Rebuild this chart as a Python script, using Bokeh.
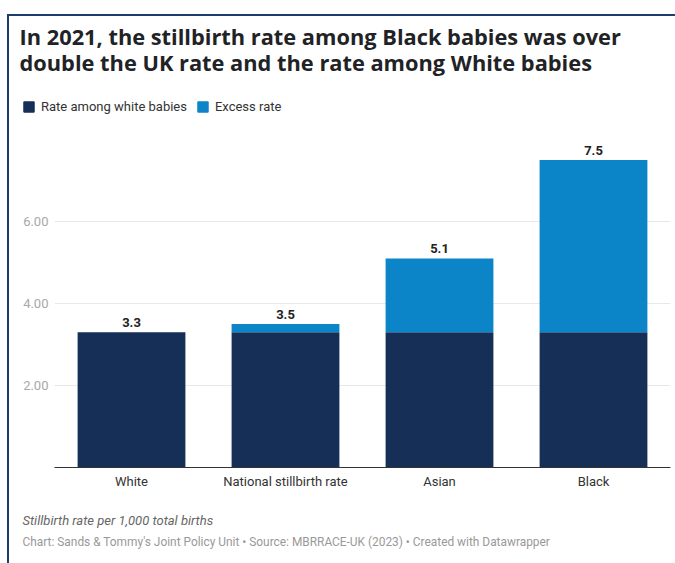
from bokeh.plotting import figure
from bokeh.layouts import column
from bokeh.models import (FactorRange, Range1d, FixedTicker, NumeralTickFormatter,
                          Label, Legend, LegendItem, ColumnDataSource)
from bokeh.core.properties import value
from bokeh.embed import file_html
from bokeh.resources import INLINE

# ---- data ----
categories = ["White", "National stillbirth rate", "Asian", "Black"]
white_rate = [3.3, 3.3, 3.3, 3.3]
excess_rate = [0.0, 0.2, 1.8, 4.2]
totals = [3.3, 3.5, 5.1, 7.5]
total_labels = ["3.3", "3.5", "5.1", "7.5"]
y_ticks = [2, 4, 6]
series_names = ["Rate among white babies", "Excess rate"]

title_lines = ["In 2021, the stillbirth rate among Black babies was over",
               "double the UK rate and the rate among White babies"]
note_text = "Stillbirth rate per 1,000 total births"
source_text = "Chart: Sands & Tommy's Joint Policy Unit \u2022 Source: MBRRACE-UK (2023) \u2022 Created with Datawrapper"

NAVY = "#152f57"
BLUE = "#0b85c7"
BORDER = "#1d3d6c"

# page geometry (pixels)
OX, OY = 9, 16                 # canvas origin inside the bordered box
W = 675 - OX
HEAD_B, MAIN_B = 120, 500      # header bottom / main chart bottom (page y)
FRAME_L, FRAME_R, FRAME_T, FRAME_B = 54, 670, 125, 467
PX_PER_UNIT = 41.0
y_end = (FRAME_B - FRAME_T) / PX_PER_UNIT


def no_align(f):
    if "frame_align" in f.properties():
        f.frame_align = False
    return f


def blank(height):
    f = figure(width=W, height=height, x_range=Range1d(0, W), y_range=Range1d(height, 0),
               x_axis_location=None, y_axis_location=None, output_backend="svg",
               toolbar_location=None, min_border=0)
    f.outline_line_color = None
    f.grid.visible = False
    f.background_fill_color = "white"
    f.border_fill_color = "white"
    return no_align(f)


# ---- header: title + legend ----
hh = HEAD_B - OY
head = blank(hh)
for t, mid in zip(title_lines, [36, 62]):
    head.add_layout(Label(x=19 - OX, y=mid - OY, text=t, text_font="Open Sans",
                          text_font_style="bold", text_font_size="21.8px",
                          text_color="#1f2326", text_baseline="middle"))
# zero-size swatch holders for the legend
sw_src = ColumnDataSource(dict(x=[0], top=[0]))
sw0 = head.vbar(x="x", top="top", width=0, source=sw_src, color=NAVY)
sw1 = head.vbar(x="x", top="top", width=0, source=sw_src, color=BLUE)
legend = Legend(items=[LegendItem(label=series_names[0], renderers=[sw0]),
                       LegendItem(label=series_names[1], renderers=[sw1])],
                orientation="horizontal", location=(22 - OX, hh - (114 - OY)),
                glyph_width=13, glyph_height=13, label_standoff=6, spacing=9,
                padding=0, margin=0, border_line_color=None,
                background_fill_alpha=0, label_text_font="Roboto",
                label_text_font_size="13px", label_text_color="#333333")
head.add_layout(legend, "center")

# ---- main chart ----
src = ColumnDataSource(dict(cat=categories, white=white_rate, excess=excess_rate,
                            total=totals, lab=total_labels))

p = figure(x_range=FactorRange(*categories), y_range=Range1d(0, y_end),
           width=W, height=MAIN_B - HEAD_B, output_backend="svg", toolbar_location=None,
           min_border_left=FRAME_L - OX, min_border_right=675 - FRAME_R,
           min_border_top=FRAME_T - HEAD_B, min_border_bottom=MAIN_B - FRAME_B)
no_align(p)
p.outline_line_color = None
p.background_fill_color = "white"
p.border_fill_color = "white"

p.vbar_stack(["white", "excess"], x="cat", width=0.7, source=src,
             color=[NAVY, BLUE], line_color=None)

p.text(x="cat", y="total", text="lab", source=src, text_align="center",
       text_baseline="bottom", y_offset=-5, text_font=value("Roboto"),
       text_font_style="bold", text_font_size="13px", text_color="#222222")

p.xgrid.grid_line_color = None
p.ygrid.grid_line_color = "#e8e8e8"
p.ygrid.ticker = FixedTicker(ticks=y_ticks)
p.yaxis.ticker = FixedTicker(ticks=y_ticks)
p.yaxis.formatter = NumeralTickFormatter(format="0.00")
p.yaxis.axis_line_color = None
p.yaxis.major_tick_line_color = None
p.yaxis.minor_tick_line_color = None
p.yaxis.major_tick_out = 0
p.yaxis.major_label_standoff = 6
p.yaxis.major_label_text_font = "Roboto"
p.yaxis.major_label_text_font_size = "13px"
p.yaxis.major_label_text_color = "#a8a8a8"

p.xaxis.axis_line_color = "#333333"
p.xaxis.axis_line_width = 1
p.xaxis.major_tick_line_color = None
p.xaxis.major_tick_out = 0
p.xaxis.major_label_standoff = 6
p.xaxis.major_label_text_font = "Roboto"
p.xaxis.major_label_text_font_size = "13px"
p.xaxis.major_label_text_color = "#333333"

# ---- footer ----
fh = 563 - MAIN_B
foot = blank(fh)
foot.add_layout(Label(x=22 - OX, y=520 - MAIN_B, text=note_text, text_font="Roboto",
                      text_font_style="italic", text_font_size="13px",
                      text_color="#666666", text_baseline="middle"))
foot.add_layout(Label(x=22 - OX, y=541 - MAIN_B, text=source_text, text_font="Roboto",
                      text_font_size="11.9px", text_color="#999999",
                      text_baseline="middle"))

page = column(head, p, foot, spacing=0)
page.styles = {"margin-left": "7px", "margin-top": "14px",
               "border-left": f"2px solid {BORDER}", "border-top": f"2px solid {BORDER}"}

open("out.html", "w").write(file_html(page, INLINE))
